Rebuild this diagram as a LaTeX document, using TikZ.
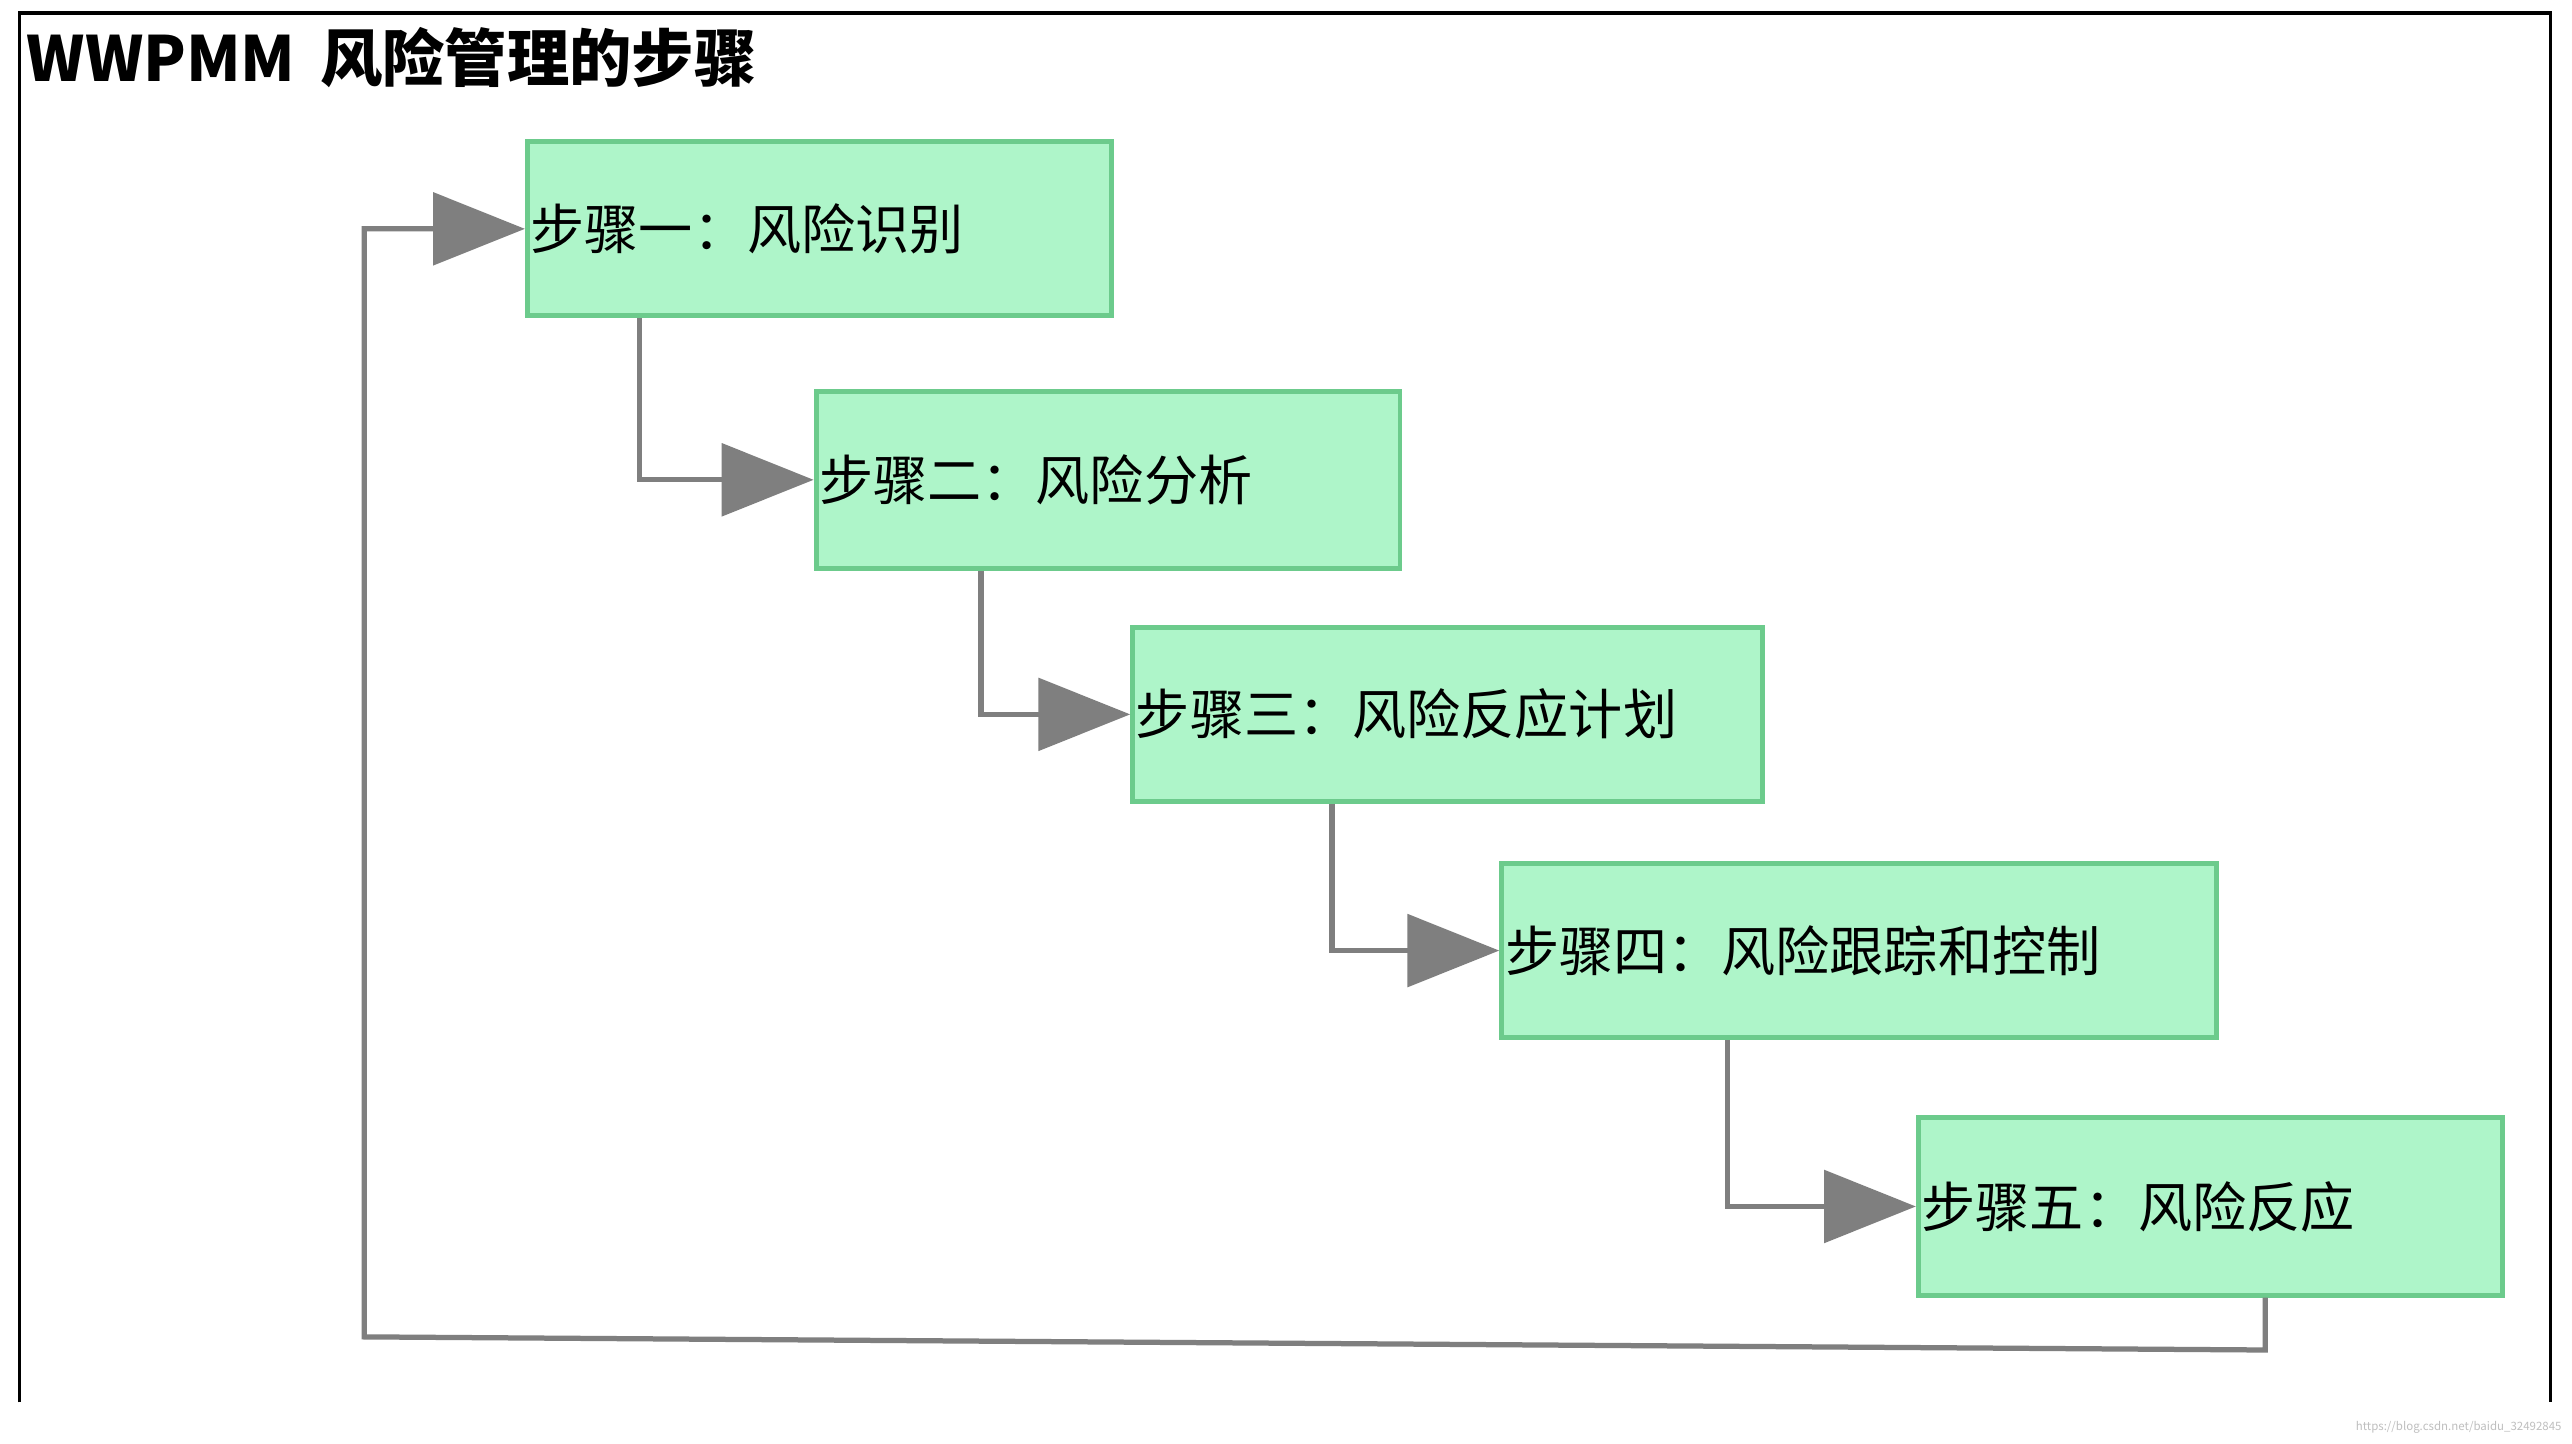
\documentclass[tikz,border=0pt]{standalone}
\usepackage{fontspec}
\setmainfont{Noto Sans CJK SC}
\usetikzlibrary{arrows.meta,calc}
\definecolor{boxfill}{HTML}{AEF5C9}
\definecolor{boxline}{HTML}{6CCB8C}
\definecolor{conn}{HTML}{7F7F7F}
\tikzset{
 stepbox/.style={draw=boxline,line width=1.5pt,fill=boxfill,anchor=north west,inner xsep=0pt,inner ysep=1pt,align=left,font=\fontsize{16.5}{19}\selectfont},
 link/.style={draw=conn,line width=1.6pt,-{Triangle[length=28pt,width=22pt]}}
}
\begin{document}
\begin{tikzpicture}[x=0.5pt,y=-0.5pt]
\useasboundingbox (0,0) rectangle (1568,880);
\fill[white] (0,0) rectangle (1568,880);
\draw[black,line width=1pt] (12,855) -- (12,8) -- (1555,8) -- (1555,855);
\node[anchor=west,font=\bfseries\fontsize{19}{21}\selectfont,inner sep=0] (title) at (16,35) {WWPMM\, 风险管理的步骤};
\node[stepbox,minimum width=178pt,minimum height=53pt,text width=176pt] (b1) at (320,85) {步骤一：风险识别};
\node[stepbox,minimum width=178pt,minimum height=54pt,text width=176pt] (b2) at (496,237) {步骤二：风险分析};
\node[stepbox,minimum width=192pt,minimum height=53pt,text width=190pt] (b3) at (689,381) {步骤三：风险反应计划};
\node[stepbox,minimum width=218pt,minimum height=53pt,text width=216pt] (b4) at (914,525) {步骤四：风险跟踪和控制};
\node[stepbox,minimum width=178pt,minimum height=54pt,text width=176pt] (b5) at (1168,680) {步骤五：风险反应};
\draw[link] ($(b1.south west)+(70,0)$) |- (b2.west);
\draw[link] ($(b2.south west)+(102,0)$) |- (b3.west);
\draw[link] ($(b3.south west)+(123,0)$) |- (b4.west);
\draw[link] ($(b4.south west)+(139,0)$) |- (b5.west);
\coordinate (c1) at ($(b5.south west)+(213,32)$);
\coordinate (c2) at (222,815);
\draw[link] ($(b5.south west)+(213,0)$) -- (c1) -- (c2) |- (b1.west);
\node[anchor=east,font=\fontsize{3.5}{4}\selectfont,text=gray!50,inner sep=0] (wm) at (1562,870) {https://blog.csdn.net/baidu\_32492845};
\end{tikzpicture}
\end{document}
